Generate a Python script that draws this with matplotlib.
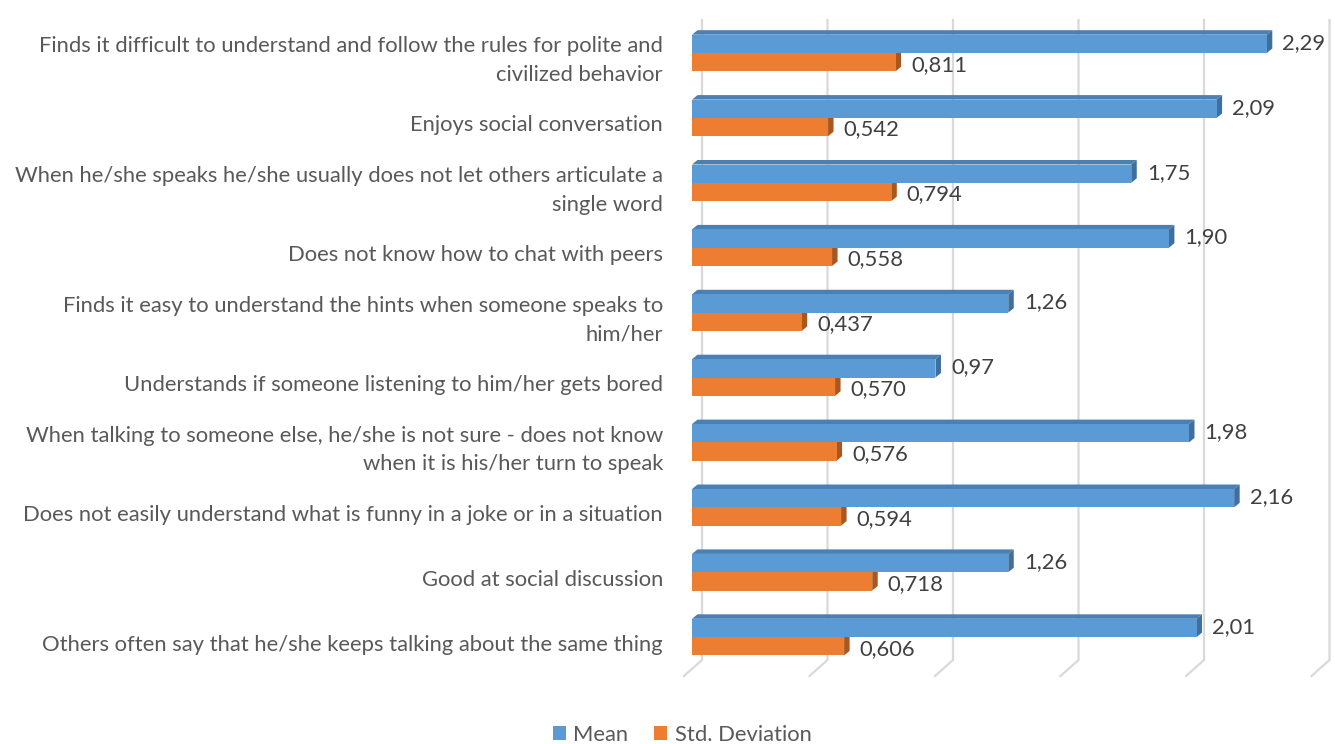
import matplotlib
matplotlib.use("Agg")
import matplotlib.pyplot as plt
from matplotlib.patches import Polygon, Patch

plt.rcParams['font.family'] = ['Lato', 'DejaVu Sans']

categories = [
    "Finds it difficult to understand and follow the rules for polite and\ncivilized behavior",
    "Enjoys social conversation",
    "When he/she speaks he/she usually does not let others articulate a\nsingle word",
    "Does not know how to chat with peers",
    "Finds it easy to understand the hints when someone speaks to\nhim/her",
    "Understands if someone listening to him/her gets bored",
    "When talking to someone else, he/she is not sure - does not know\nwhen it is his/her turn to speak",
    "Does not easily understand what is funny in a joke or in a situation",
    "Good at social discussion",
    "Others often say that he/she keeps talking about the same thing",
]
mean_vals = [2.29, 2.09, 1.75, 1.90, 1.26, 0.97, 1.98, 2.16, 1.26, 2.01]
std_vals = [0.811, 0.542, 0.794, 0.558, 0.437, 0.570, 0.576, 0.594, 0.718, 0.606]
series_names = ["Mean", "Std. Deviation"]
grid_ticks = [0.0, 0.5, 1.0, 1.5, 2.0, 2.5]

W, H, DPI = 1335, 744, 100
fig = plt.figure(figsize=(W / DPI, H / DPI), dpi=DPI)

# axes geometry in pixels
ax_left_px, ax_right_px = 692, 1335
ax_top_px, ax_bot_px = 20, 680
px_per_x = 251.0
px_per_y = 64.9
ax = fig.add_axes([ax_left_px / W, 1 - ax_bot_px / H,
                   (ax_right_px - ax_left_px) / W, (ax_bot_px - ax_top_px) / H])
x_max = (ax_right_px - ax_left_px) / px_per_x
y_top = -(53 - ax_top_px) / px_per_y
y_bot = y_top + (ax_bot_px - ax_top_px) / px_per_y
ax.set_xlim(0, x_max)
ax.set_ylim(y_bot, y_top)
ax.axis('off')

def px_x(p):
    return p / px_per_x

def px_y(p):
    return p / px_per_y

# back wall and floor grid lines
grid_color = "#D9D9D9"
back_off = px_x(10)
floor_off = px_x(8)
wall_bottom = (660 - 53) / px_per_y
floor_front = (676 - 53) / px_per_y
for t in grid_ticks:
    xb = t + back_off
    ax.plot([xb, xb, t - floor_off], [y_top, wall_bottom, floor_front],
            color=grid_color, lw=1.6, clip_on=False, zorder=1,
            solid_joinstyle='miter')

blue, blue_dark, blue_top = "#5B9BD5", "#3F6F9C", "#4A80B4"
orange, orange_dark = "#ED7D31", "#A9561F"
bar_h = 18.3 / px_per_y
dx = px_x(5.5)
dy = px_y(4.5)

def bar3d(x1, y_front_top, y_front_bot, face, side, top, z):
    ax.add_patch(Polygon([(0, y_front_top), (x1, y_front_top),
                          (x1 + dx, y_front_top - dy), (dx, y_front_top - dy)],
                         closed=True, fc=top, ec='none', zorder=z))
    ax.add_patch(Polygon([(x1, y_front_top), (x1, y_front_bot),
                          (x1 + dx, y_front_bot - dy), (x1 + dx, y_front_top - dy)],
                         closed=True, fc=side, ec='none', zorder=z))
    ax.barh((y_front_top + y_front_bot) / 2, x1, height=y_front_bot - y_front_top,
            left=0, color=face, edgecolor='none', zorder=z + 0.5)

value_color = "#404040"
label_color = "#595959"
fs = 15.8
for i, (m, s) in enumerate(zip(mean_vals, std_vals)):
    # orange (lower) first so the blue bar sits in front of its top face
    bar3d(s, i, i + bar_h, orange, orange_dark, orange_dark, 3)
    bar3d(m, i - bar_h, i, blue, blue_dark, blue_top, 4)
    ax.text(m + dx + px_x(10), i - bar_h / 2 - px_y(1), f"{m:.2f}".replace('.', ','),
            ha='left', va='center', fontsize=fs, color=value_color, zorder=6)
    ax.text(s + dx + px_x(10), i + bar_h / 2 + px_y(2.5), f"{s:.3f}".replace('.', ','),
            ha='left', va='center', fontsize=fs, color=value_color, zorder=6)
    ax.text(-px_x(29), i + px_y(7.5), categories[i], ha='right', va='center',
            fontsize=fs, color=label_color, linespacing=1.53, clip_on=False)

handles = [Patch(facecolor=blue, edgecolor='none'),
           Patch(facecolor=orange, edgecolor='none')]
fig.legend(handles, series_names, loc='center', bbox_to_anchor=(682 / W, 1 - 735 / H),
           ncol=2, frameon=False, fontsize=fs, handlelength=0.6, handleheight=0.6,
           handletextpad=0.35, columnspacing=1.15, labelcolor=label_color)

fig.savefig("out.png", dpi=DPI, facecolor='white')
